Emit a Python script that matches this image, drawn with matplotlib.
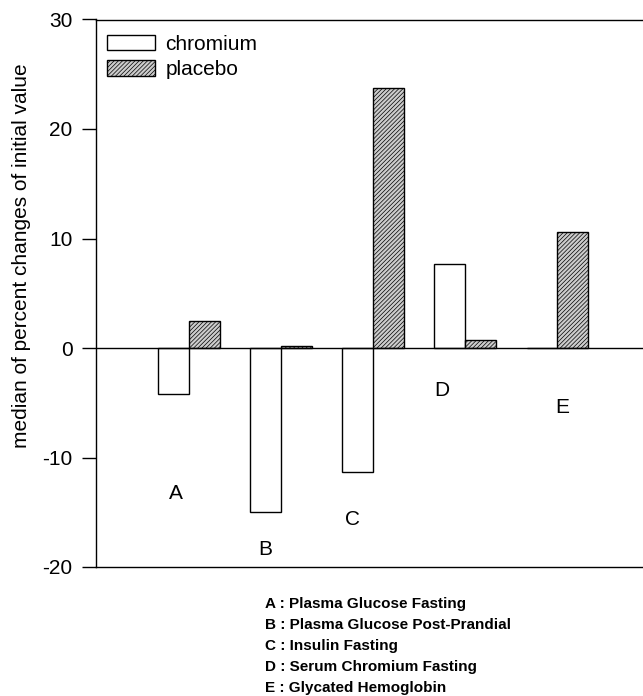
import numpy as np
import matplotlib
matplotlib.use('Agg')
import matplotlib.pyplot as plt

plt.rcParams['font.family'] = ['Liberation Sans', 'DejaVu Sans']
plt.rcParams['axes.unicode_minus'] = False
plt.rcParams['hatch.linewidth'] = 0.5
plt.rcParams['hatch.color'] = '#555555'

# data
groups = ['A', 'B', 'C', 'D', 'E']
chromium = [-4.2, -15.0, -11.3, 7.7, 0.0]
placebo = [2.5, 0.2, 23.7, 0.7, 10.6]
legend_lines = ['A : Plasma Glucose Fasting',
                'B : Plasma Glucose Post-Prandial',
                'C : Insulin Fasting',
                'D : Serum Chromium Fasting',
                'E : Glycated Hemoglobin']
# letter label positions (offset from group centre, y value)
letter_dx = [-0.14, -0.17, -0.22, -0.26, 0.05]
letter_y = [-13.3, -18.4, -15.7, -3.9, -5.4]

fig = plt.figure(figsize=(6.43, 6.96), dpi=100)
ax = fig.add_axes([96/643, 1-567/696, 1-96/643, (567-19.5)/696])

x = np.arange(len(groups))
w = 0.335
ax.bar(x - w/2, chromium, w, color='white', edgecolor='black', linewidth=1.0, label='chromium')
ax.bar(x + w/2, placebo, w, color='#cccccc', edgecolor='black', linewidth=1.0,
       hatch='////////', label='placebo')

ax.axhline(0, color='black', linewidth=1.0)

for i, g in enumerate(groups):
    ax.text(x[i] + letter_dx[i], letter_y[i], g, fontsize=15, ha='center', va='center')

ax.set_xlim(-1.01, 4.93)
ax.set_ylim(-20, 30)
ax.set_yticks([-20, -10, 0, 10, 20, 30])
ax.set_xticks([])
ax.tick_params(axis='y', direction='out', length=10, width=1.0, labelsize=15, pad=7)
ax.spines['right'].set_visible(False)
for s in ['left', 'top', 'bottom']:
    ax.spines[s].set_linewidth(1.0)
ax.set_ylabel('median of percent changes of initial value', fontsize=15)
ax.yaxis.set_label_coords((31 - 96)/547, (567 - 256)/547.5)

leg = ax.legend(loc='upper left', bbox_to_anchor=(107/643, 1-35/696),
                bbox_transform=fig.transFigure, frameon=False, fontsize=15,
                handlelength=2.3, handleheight=0.75, labelspacing=0.3,
                handletextpad=0.5, borderpad=0, borderaxespad=0)

for k, line in enumerate(legend_lines):
    fig.text(265/643, 1-(604 + 21*k)/696, line, fontsize=11, fontweight='bold',
             ha='left', va='center')

fig.savefig('out.png', dpi=100)
